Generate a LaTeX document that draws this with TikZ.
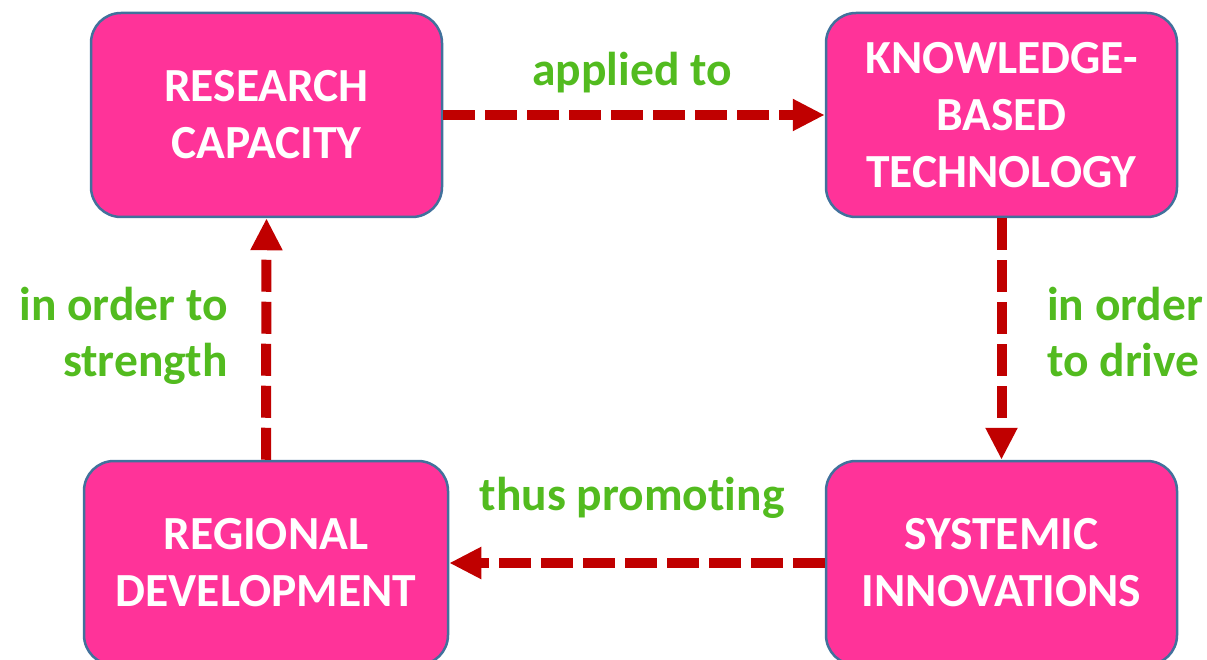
\documentclass[tikz,border=0pt]{standalone}
\usepackage{fontspec}
\setmainfont{Carlito}[Ligatures={NoCommon}]
\usetikzlibrary{arrows.meta}
\definecolor{boxpink}{HTML}{FF3399}
\definecolor{boxedge}{HTML}{41719C}
\definecolor{arrred}{HTML}{C00000}
\definecolor{lblgreen}{HTML}{52BB1F}
\tikzset{
  cbox/.style={draw=boxedge, line width=2.5pt, fill=boxpink, rounded corners=30pt,
    minimum width=351pt, minimum height=204pt, align=center, text=white,
    font=\bfseries\fontsize{47.5}{57}\selectfont, inner sep=0pt},
  flow/.style={draw=arrred, line width=10pt, dash pattern=on 32pt off 10pt,
    -{Triangle[width=30pt,length=32pt]}, shorten >=0pt},
  lbl/.style={text=lblgreen, font=\bfseries\fontsize{47.5}{56}\selectfont, inner sep=0pt}
}
\begin{document}
\begin{tikzpicture}[x=1pt,y=-1pt]
\useasboundingbox (0,0) rectangle (1207,660);
\node[cbox] (rc) at (266.5,115) {RESEARCH\\CAPACITY};
\node[cbox] (kbt) at (1001.5,115) {KNOWLEDGE-\\BASED\\TECHNOLOGY};
\node[cbox, minimum width=364pt] (rd) at (266,563) {REGIONAL\\DEVELOPMENT};
\node[cbox] (si) at (1001.5,563) {SYSTEMIC\\INNOVATIONS};
\draw[flow] (rc.east) -- (kbt.west);
\draw[flow] (kbt.south) -- (si.north);
\draw[flow] (si.west) -- (rd.east);
\draw[flow] (rd.north) -- (rc.south);
\node[lbl, anchor=base] (l1) at (632,86) {applied to};
\node[lbl, anchor=east, align=right] (l2) at (228,336) {in order to\\strength};
\node[lbl, anchor=west, align=left] (l3) at (1047,332) {in order\\to drive};
\node[lbl, anchor=base] (l4) at (632,510) {thus promoting};
\end{tikzpicture}
\end{document}
